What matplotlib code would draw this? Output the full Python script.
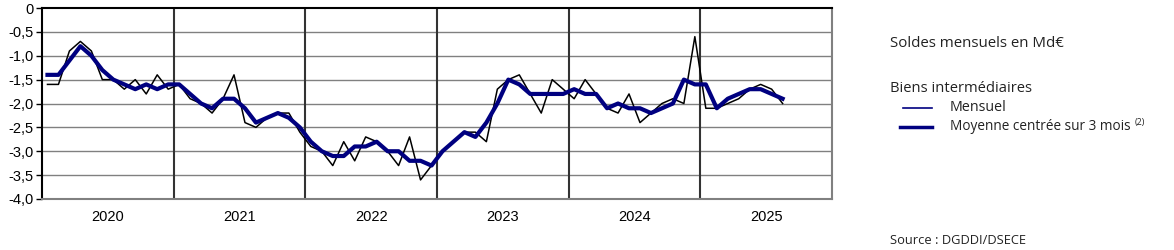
import matplotlib
matplotlib.use("Agg")
import matplotlib.pyplot as plt
from matplotlib.lines import Line2D

years = ["2020", "2021", "2022", "2023", "2024", "2025"]

mensuel = [
    -1.6, -1.6, -0.9, -0.7, -0.9, -1.5, -1.5, -1.7, -1.5, -1.8, -1.4, -1.7,
    -1.6, -1.9, -2.0, -2.2, -1.9, -1.4, -2.4, -2.5, -2.3, -2.2, -2.2, -2.6,
    -2.9, -3.0, -3.3, -2.8, -3.2, -2.7, -2.8, -3.0, -3.3, -2.7, -3.6, -3.3,
    -3.0, -2.8, -2.6, -2.6, -2.8, -1.7, -1.5, -1.4, -1.8, -2.2, -1.5, -1.7,
    -1.9, -1.5, -1.8, -2.1, -2.2, -1.8, -2.4, -2.2, -2.0, -1.9, -2.0, -0.6,
    -2.1, -2.1, -2.0, -1.9, -1.7, -1.6, -1.7, -2.0,
]

moyenne = [
    -1.4, -1.4, -1.1, -0.8, -1.0, -1.3, -1.5, -1.6, -1.7, -1.6, -1.7, -1.6,
    -1.6, -1.8, -2.0, -2.1, -1.9, -1.9, -2.1, -2.4, -2.3, -2.2, -2.3, -2.5,
    -2.8, -3.0, -3.1, -3.1, -2.9, -2.9, -2.8, -3.0, -3.0, -3.2, -3.2, -3.3,
    -3.0, -2.8, -2.6, -2.7, -2.4, -2.0, -1.5, -1.6, -1.8, -1.8, -1.8, -1.8,
    -1.7, -1.8, -1.8, -2.1, -2.0, -2.1, -2.1, -2.2, -2.1, -2.0, -1.5, -1.6,
    -1.6, -2.1, -1.9, -1.8, -1.7, -1.7, -1.8, -1.9,
]

y_ticks = [0, -0.5, -1.0, -1.5, -2.0, -2.5, -3.0, -3.5, -4.0]
y_labels = ["0", "-0,5", "-1,0", "-1,5", "-2,0", "-2,5", "-3,0", "-3,5", "-4,0"]

NAVY = "#000080"
GRID = "#808080"

fig = plt.figure(figsize=(11.74, 2.5), dpi=100)
ax = fig.add_axes([42/1174, 1-199/250, (832-42)/1174, (199-8)/250])

x = list(range(len(mensuel)))
n_months = 12 * len(years)
ax.set_xlim(-0.5, n_months - 0.5)
ax.set_ylim(-4.0, 0)

for t in y_ticks[1:-1]:
    ax.axhline(t, color=GRID, lw=1.0, zorder=1)
for k in range(1, len(years)):
    ax.axvline(12 * k - 0.5, color="#333333", lw=1.5, zorder=1)

ax.plot(x, mensuel, color="black", lw=1.1, zorder=3)
ax.plot(x, moyenne, color=NAVY, lw=3.0, zorder=4, solid_joinstyle="round")

ax.set_yticks(y_ticks)
ax.set_yticklabels(y_labels, fontfamily="Liberation Sans", fontsize=10.5)
ax.set_xticks([12 * k + 5.5 for k in range(len(years))])
ax.set_xticklabels(years, fontfamily="Liberation Sans", fontsize=10.5)
ax.tick_params(axis="x", length=0, pad=8)
ax.tick_params(axis="y", length=4, width=1, pad=2, direction="out")

ax.spines["left"].set_color("black")
ax.spines["left"].set_linewidth(1.5)
ax.spines["top"].set_color("black")
ax.spines["top"].set_linewidth(1.5)
ax.spines["bottom"].set_color(GRID)
ax.spines["bottom"].set_linewidth(1.5)
ax.spines["right"].set_color(GRID)
ax.spines["right"].set_linewidth(1.5)

FONT = "Open Sans"
TC = "#222222"
fig.text(890/1174, 1-44/250, "Soldes mensuels en Md€", va="center", ha="left",
         fontfamily=FONT, fontsize=10.8, color=TC)
fig.text(890/1174, 1-88/250, "Biens intermédiaires", va="center", ha="left",
         fontfamily=FONT, fontsize=10.6, color=TC)
fig.add_artist(Line2D([903/1174, 932/1174], [1-108/250, 1-108/250], color=NAVY, lw=1.2))
fig.text(950/1174, 1-108/250, "Mensuel", va="center", ha="left",
         fontfamily=FONT, fontsize=10.3, color=TC)
fig.add_artist(Line2D([900/1174, 932/1174], [1-127/250, 1-127/250], color=NAVY, lw=2.5))
moy = fig.text(950/1174, 1-127/250, "Moyenne centrée sur 3 mois", va="center", ha="left",
               fontfamily=FONT, fontsize=9.8, color=TC)
fig.add_artist(plt.Annotation("(2)", xy=(1, 1), xycoords=moy, xytext=(3, 1),
                              textcoords="offset points", va="top", ha="left",
                              fontfamily=FONT, fontsize=6.5, color=TC))
fig.text(890/1174, 1-240/250, "Source : DGDDI/DSECE", va="center", ha="left",
         fontfamily=FONT, fontsize=9.3, color=TC)

fig.savefig("out.png", dpi=100)
